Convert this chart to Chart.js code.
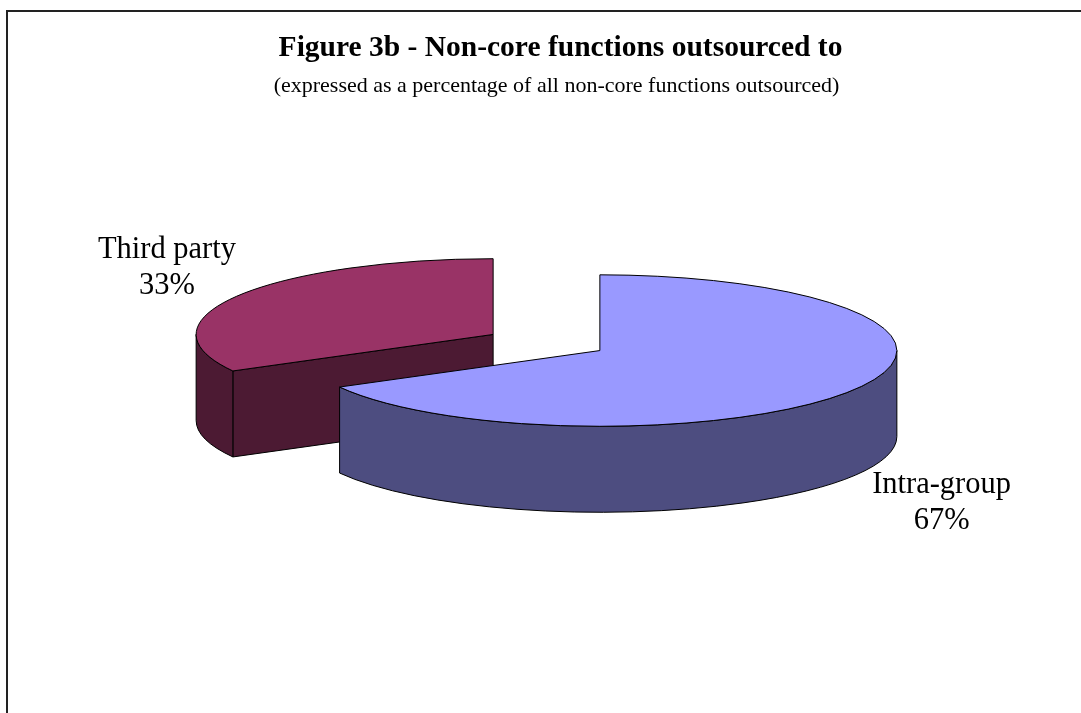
<!DOCTYPE html>
<html>
<head>
<meta charset="utf-8">
<script src="https://cdn.jsdelivr.net/npm/chart.js@4/dist/chart.umd.min.js"></script>
<style>
  body { margin: 0; background: #fff; }
  canvas { display: block; }
</style>
</head>
<body>
<canvas id="pie3d" width="1081" height="713"></canvas>
<script>
// values
var categories = ['Intra-group', 'Third party'];
var shares = [67, 33];
var titleText = 'Figure 3b - Non-core functions outsourced to';
var subtitleText = '(expressed as a percentage of all non-core functions outsourced)';

var topColors = ['#9999FF', '#993366'];
var sideColors = ['#4D4D80', '#4C1A33'];

var serif = '"Liberation Serif", "Times New Roman", serif';
var squash = 0.255;   // how flat the tilted disc looks
var depth = 86;       // thickness of the disc

// the pie geometry comes from Chart.js, the plugin only projects it to 3D
const pie3d = {
  id: 'pie3d',
  beforeDraw(chart) {
    const ctx = chart.ctx;
    ctx.save();
    // chart frame (its right and bottom sides are cut off in the original)
    ctx.strokeStyle = '#222';
    ctx.lineWidth = 2;
    ctx.beginPath();
    ctx.moveTo(7, chart.height + 5);
    ctx.lineTo(7, 11);
    ctx.lineTo(chart.width + 5, 11);
    ctx.stroke();

    // title, centred on the whole frame
    const mid = (7 + chart.width + 29) / 2;
    ctx.fillStyle = '#000';
    ctx.textAlign = 'center';
    ctx.textBaseline = 'alphabetic';
    ctx.font = 'bold 29.5px ' + serif;
    ctx.fillText(titleText, mid + 2, 56);
    ctx.font = '22px ' + serif;
    ctx.fillText(subtitleText, mid - 2, 92);
    ctx.restore();
  },
  beforeDatasetsDraw(chart) {
    const ctx = chart.ctx;
    const meta = chart.getDatasetMeta(0);
    const area = chart.chartArea;
    const cy0 = (area.top + area.bottom) / 2;

    const slices = meta.data.map((el, i) => {
      const p = el.getProps(['x', 'y', 'startAngle', 'endAngle', 'outerRadius'], true);
      const mid = (p.startAngle + p.endAngle) / 2;
      const off = el.options.offset || 0;
      const cx = p.x + Math.cos(mid) * off;
      const cy = cy0 + (p.y + Math.sin(mid) * off - cy0) * squash;
      return { i, el, p, mid, cx, cy };
    });
    // back slices first
    slices.sort((a, b) => a.cy - b.cy);

    ctx.save();
    ctx.lineWidth = 1;
    ctx.strokeStyle = '#000';
    ctx.lineJoin = 'round';
    slices.forEach(s => {
      const r = s.p.outerRadius, ry = r * squash;
      const a0 = s.p.startAngle, a1 = s.p.endAngle;
      ctx.fillStyle = sideColors[s.i];

      // radial faces turned towards the viewer
      [[a0, -Math.cos(a0)], [a1, Math.cos(a1)]].forEach(([ang, facing]) => {
        if (facing <= 1e-6) return;
        const rx = s.cx + Math.cos(ang) * r, rY = s.cy + Math.sin(ang) * ry;
        ctx.beginPath();
        ctx.moveTo(s.cx, s.cy);
        ctx.lineTo(rx, rY);
        ctx.lineTo(rx, rY + depth);
        ctx.lineTo(s.cx, s.cy + depth);
        ctx.closePath();
        ctx.fill();
        ctx.stroke();
      });

      // curved outer wall on the front half
      for (let k = -1; k <= 1; k++) {
        const lo = Math.max(a0, k * 2 * Math.PI);
        const hi = Math.min(a1, k * 2 * Math.PI + Math.PI);
        if (hi - lo <= 1e-6) continue;
        ctx.beginPath();
        ctx.ellipse(s.cx, s.cy, r, ry, 0, lo, hi);
        ctx.ellipse(s.cx, s.cy + depth, r, ry, 0, hi, lo, true);
        ctx.closePath();
        ctx.fill();
        ctx.stroke();
      }

      // top face
      ctx.fillStyle = s.el.options.backgroundColor;
      ctx.beginPath();
      ctx.moveTo(s.cx, s.cy);
      ctx.ellipse(s.cx, s.cy, r, ry, 0, a0, a1);
      ctx.closePath();
      ctx.fill();
      ctx.stroke();
    });

    // data labels
    const total = shares.reduce((a, b) => a + b, 0);
    ctx.fillStyle = '#000';
    ctx.font = '30.5px ' + serif;
    ctx.textAlign = 'center';
    ctx.textBaseline = 'alphabetic';
    slices.forEach(s => {
      const r = s.p.outerRadius, ry = r * squash;
      const c = Math.cos(s.mid), sn = Math.sin(s.mid);
      const front = sn > 0;
      const x = s.cx + c * r + c * (front ? 100 : 82);
      const y = s.cy + sn * ry + sn * 40 + (front ? depth + 16 : 0);
      const pct = Math.round(shares[s.i] / total * 100) + '%';
      ctx.fillText(categories[s.i], x, y - 18);
      ctx.fillText(pct, x, y + 18);
    });
    ctx.restore();
    return false;
  }
};

new Chart(document.getElementById('pie3d'), {
  type: 'pie',
  data: {
    labels: categories,
    datasets: [{
      data: shares,
      backgroundColor: topColors,
      borderColor: '#000',
      borderWidth: 1,
      offset: 62
    }]
  },
  options: {
    responsive: false,
    devicePixelRatio: 1,
    animation: false,
    radius: 297,
    layout: { padding: { left: 12, right: 0, top: 0, bottom: 28 } },
    plugins: {
      legend: { display: false },
      tooltip: { enabled: false },
      title: { display: false }
    }
  },
  plugins: [pie3d]
});
</script>
</body>
</html>
